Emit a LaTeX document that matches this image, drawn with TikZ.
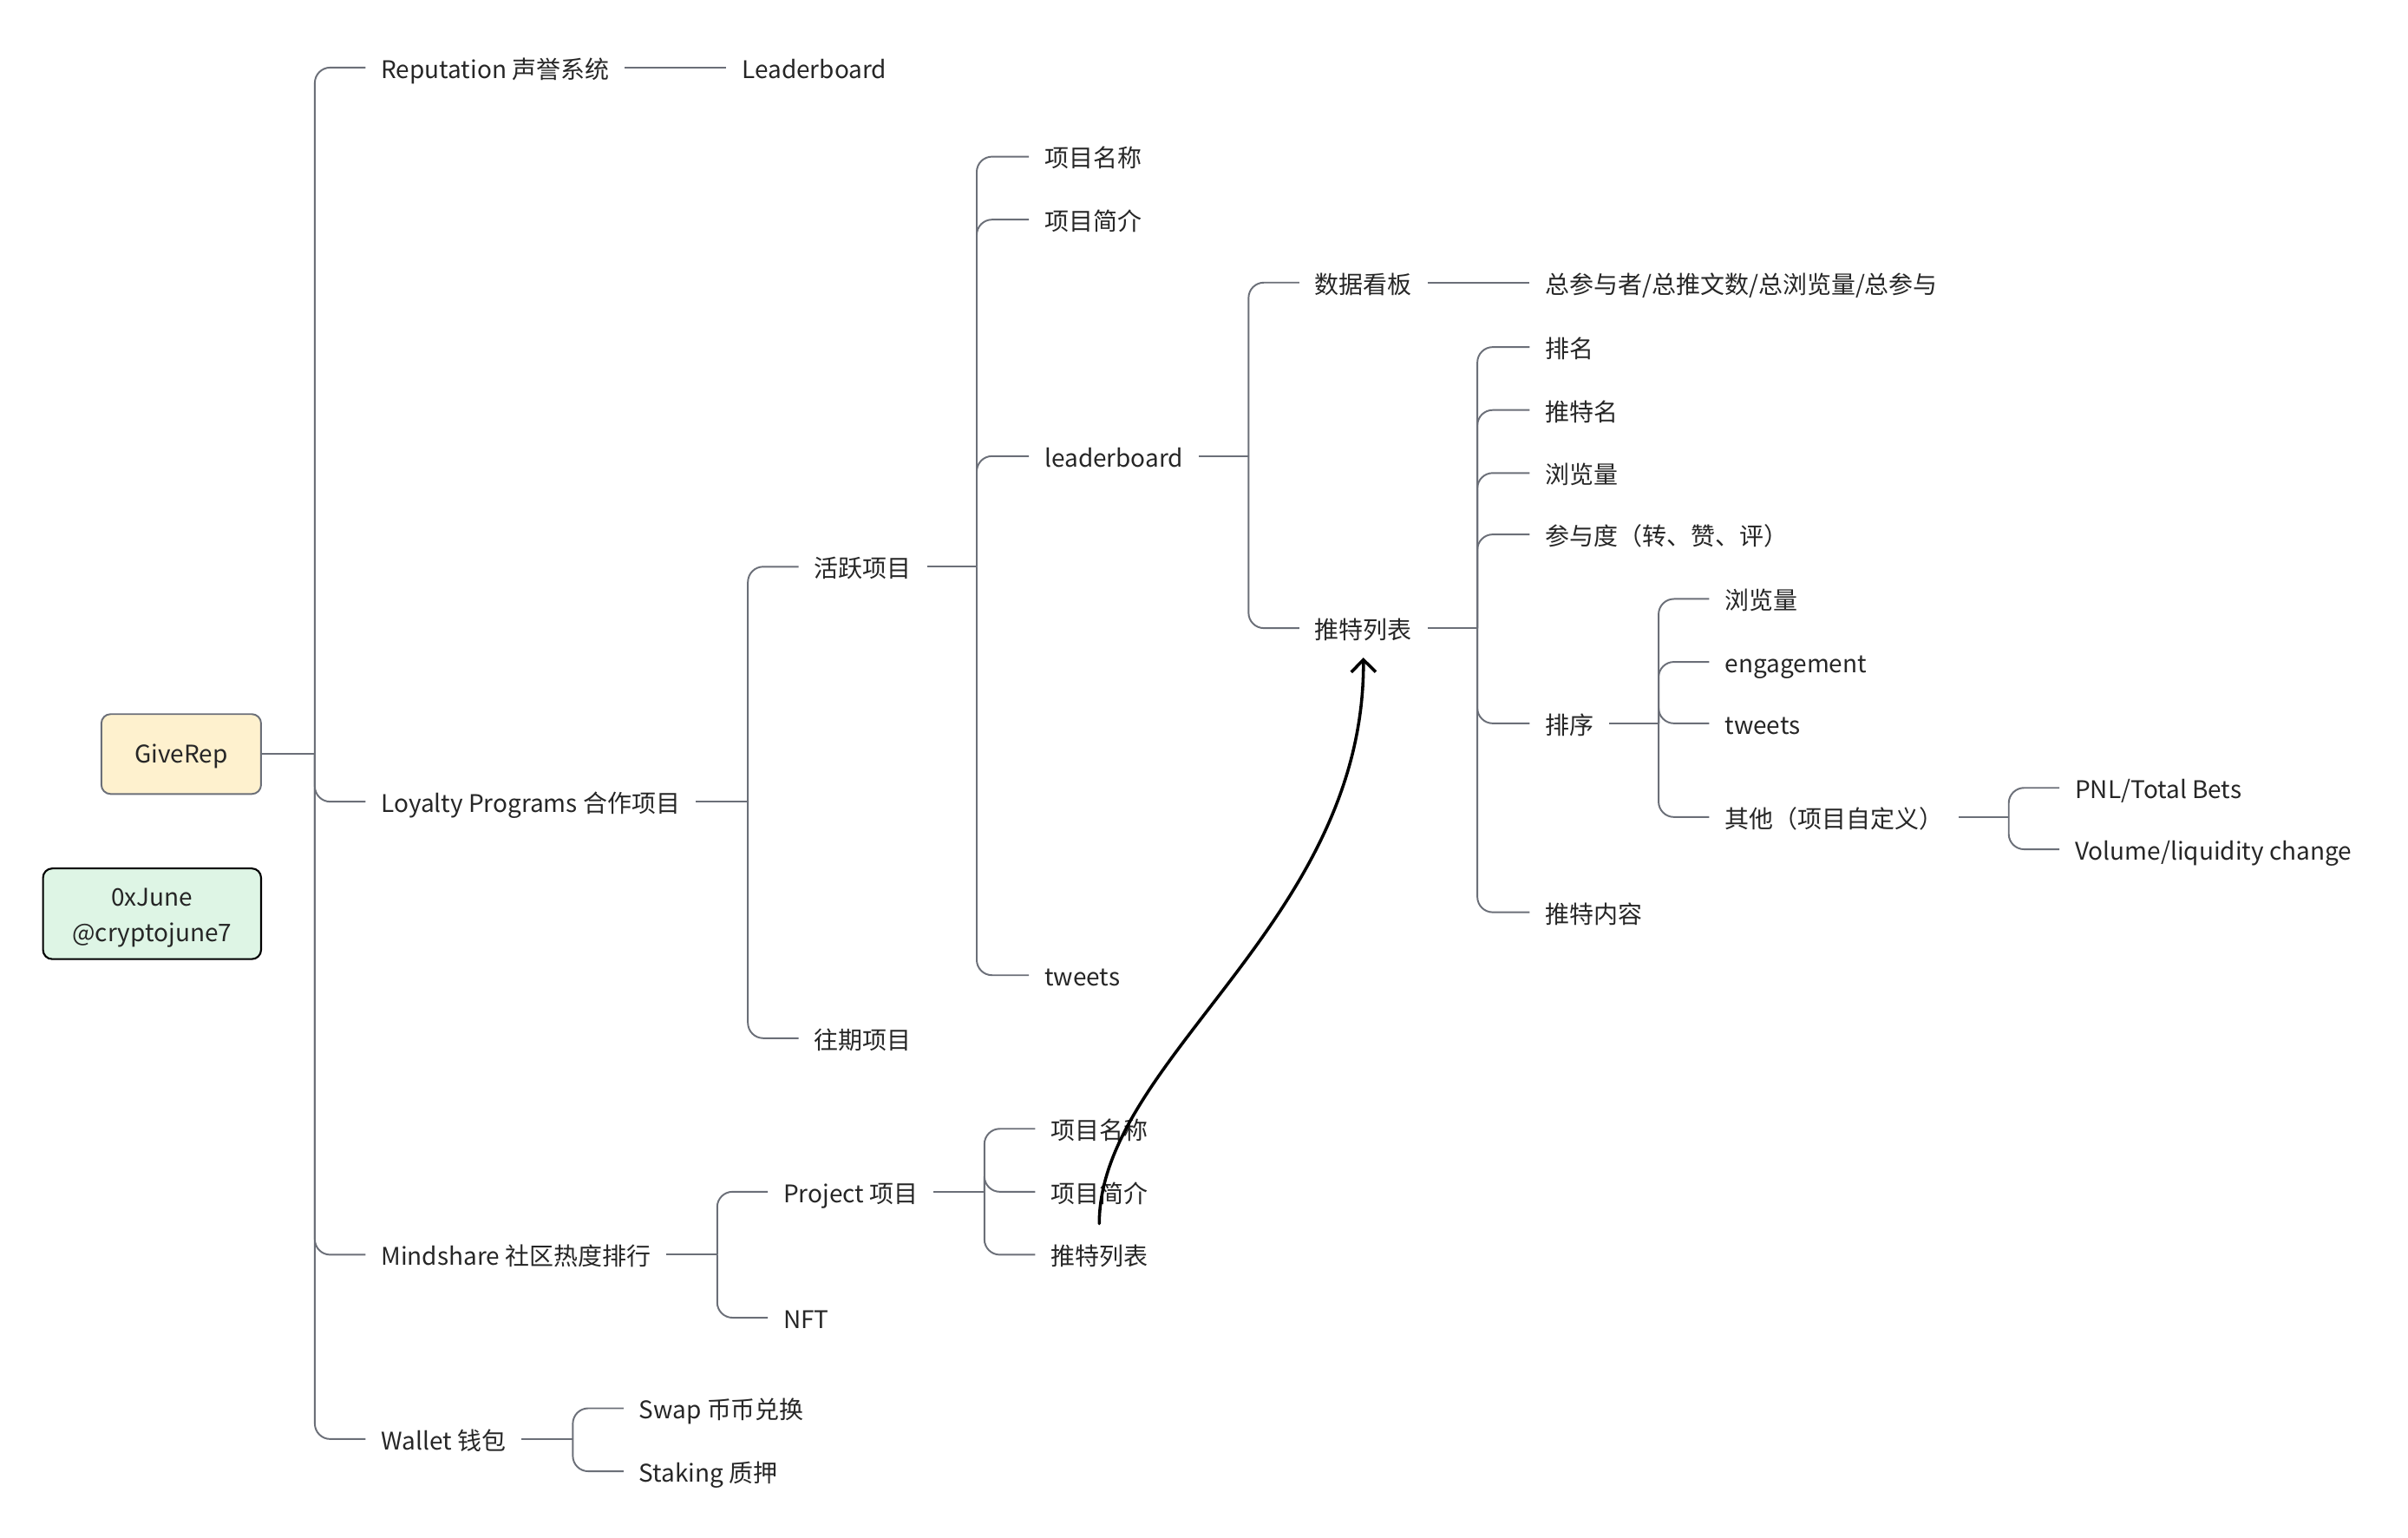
\documentclass[tikz,border=0pt]{standalone}
\usepackage{fontspec}
\setmainfont{Noto Sans CJK SC}
\usetikzlibrary{arrows.meta}
\definecolor{linegray}{HTML}{6B6F78}
\definecolor{txt}{HTML}{262626}
\definecolor{rootfill}{HTML}{FEF1CE}
\definecolor{notefill}{HTML}{DEF5E5}

\begin{document}
\begin{tikzpicture}[x=1pt,y=-1pt,
  font=\fontsize{15.8pt}{23pt}\selectfont, text=txt,
  topic/.style={anchor=west, inner xsep=10pt, inner ysep=2pt, text height=16pt, text depth=2pt},
  twig/.style={draw=linegray, line width=1.1pt, rounded corners=10pt},
  jump/.style={draw=black, line width=2pt, line cap=round, -{Straight Barb[length=8pt,width=16pt]}}]
\useasboundingbox (0,0) rectangle (1568,1001);

% root and note
\node[draw=linegray, line width=1.1pt, fill=rootfill, rounded corners=6pt, minimum width=104pt, minimum height=52pt, text height=16pt, text depth=4pt] (root) at (118,491) {GiveRep};
\node[draw=black, line width=1.2pt, fill=notefill, rounded corners=6pt, minimum width=142pt, minimum height=59pt, align=center] (note) at (99,595) {\rule{0pt}{17pt}0xJune\\@cryptojune7};

% first level
\node[topic] (rep) at (238,44) {Reputation 声誉系统};
\node[topic] (loy) at (238,522) {Loyalty Programs 合作项目};
\node[topic] (mind) at (238,817) {Mindshare 社区热度排行};
\node[topic] (wal) at (238,937) {Wallet 钱包};
\node[topic] (repLb) at (473,44) {Leaderboard};

% loyalty programs
\node[topic] (act) at (520,369) {活跃项目};
\node[topic] (past) at (520,676) {往期项目};
\node[topic] (actName) at (670,102) {项目名称};
\node[topic] (actIntro) at (670,143) {项目简介};
\node[topic] (actLb) at (670,297) {leaderboard};
\node[topic] (actTw) at (670,635) {tweets};
\node[topic] (dash) at (846,184) {数据看板};
\node[topic] (dashVal) at (996,184) {总参与者/总推文数/总浏览量/总参与};
\node[topic] (list) at (846,409) {推特列表};
\node[topic] (rank) at (996,226) {排名};
\node[topic] (name) at (996,267) {推特名};
\node[topic] (views) at (996,308) {浏览量};
\node[topic] (eng) at (996,348) {参与度（转、赞、评）};
\node[topic] (sort) at (996,471) {排序};
\node[topic] (content) at (996,594) {推特内容};
\node[topic] (sViews) at (1113,390) {浏览量};
\node[topic] (sEng) at (1113,431) {engagement};
\node[topic] (sTw) at (1113,471) {tweets};
\node[topic] (sOther) at (1113,532) {其他（项目自定义）};
\node[topic] (pnl) at (1341,513) {PNL/Total Bets};
\node[topic] (vol) at (1341,553) {Volume/liquidity change};

% mindshare
\node[topic] (proj) at (500,776) {Project 项目};
\node[topic] (nft) at (500,858) {NFT};
\node[topic] (pName) at (674,735) {项目名称};
\node[topic] (pIntro) at (674,776) {项目简介};
\node[topic] (pList) at (674,817) {推特列表};

% wallet
\node[topic] (swap) at (406,917) {Swap 币币兑换};
\node[topic] (stake) at (406,958) {Staking 质押};

% junctions
\coordinate (jroot) at (205,491);
\coordinate (jloy) at (487,522);
\coordinate (jact) at (636,369);
\coordinate (jlb) at (813,297);
\coordinate (jlist) at (962,409);
\coordinate (jsort) at (1080,471);
\coordinate (jother) at (1308,532);
\coordinate (jmind) at (467,817);
\coordinate (jproj) at (641,776);
\coordinate (jwal) at (373,937);

\draw[twig] (root.east) -- (jroot);
\foreach \c in {rep,loy,mind,wal}
	\draw[twig] (jroot) |- (\c.west);
\draw[twig] (rep.east) -- (repLb.west);
\draw[twig] (loy.east) -- (jloy);
\foreach \c in {act,past}
	\draw[twig] (jloy) |- (\c.west);
\draw[twig] (act.east) -- (jact);
\foreach \c in {actName,actIntro,actLb,actTw}
	\draw[twig] (jact) |- (\c.west);
\draw[twig] (actLb.east) -- (jlb);
\foreach \c in {dash,list}
	\draw[twig] (jlb) |- (\c.west);
\draw[twig] (dash.east) -- (dashVal.west);
\draw[twig] (list.east) -- (jlist);
\foreach \c in {rank,name,views,eng,sort,content}
	\draw[twig] (jlist) |- (\c.west);
\draw[twig] (sort.east) -- (jsort);
\foreach \c in {sViews,sEng,sTw,sOther}
	\draw[twig] (jsort) |- (\c.west);
\draw[twig] (sOther.east) -- (jother);
\foreach \c in {pnl,vol}
	\draw[twig] (jother) |- (\c.west);
\draw[twig] (mind.east) -- (jmind);
\foreach \c in {proj,nft}
	\draw[twig] (jmind) |- (\c.west);
\draw[twig] (proj.east) -- (jproj);
\foreach \c in {pName,pIntro,pList}
	\draw[twig] (jproj) |- (\c.west);
\draw[twig] (wal.east) -- (jwal);
\foreach \c in {swap,stake}
	\draw[twig] (jwal) |- (\c.west);

% cross link
\draw[jump] ([yshift=9pt]pList.north) .. controls +(0,-107) and +(1,172) .. ([yshift=-8pt]list.south);
\end{tikzpicture}
\end{document}
